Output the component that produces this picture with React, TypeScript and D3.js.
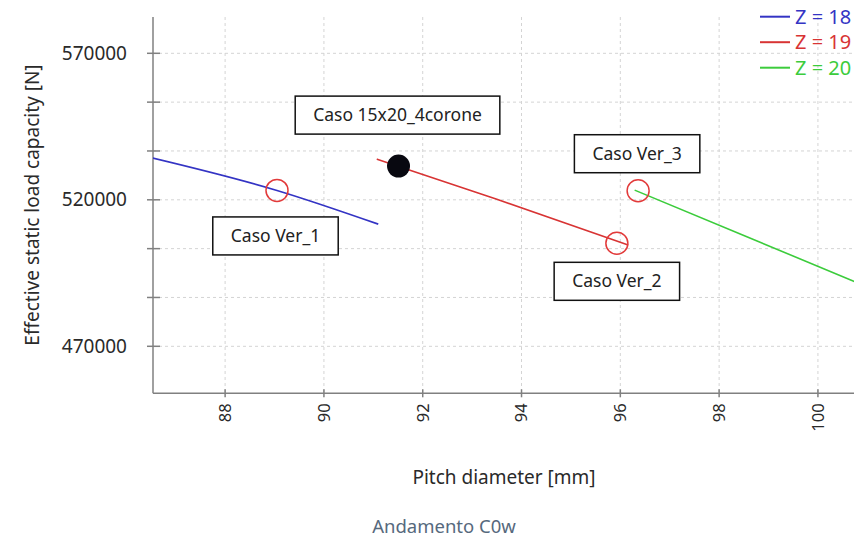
import { useEffect, useRef } from "react";
import * as d3 from "d3";

// series: Z = 18, 19, 20 (pitch diameter [mm] vs effective static load capacity [N])
const seriesNames = ["Z = 18", "Z = 19", "Z = 20"];
const seriesColors = ["#3434c4", "#d83434", "#3ccc3c"];
const z18X = [86.3, 89.05, 91.1];
const z18Y = [535200, 523200, 511700];
const z19X = [91.07, 93.5, 96.16];
const z19Y = [533900, 520200, 504600];
const z20X = [96.29, 98.5, 100.9];
const z20Y = [523300, 507800, 491000];

// marked cases
const caseNames = ["Caso Ver_1", "Caso Ver_2", "Caso Ver_3", "Caso 15x20_4corone"];
const caseX = [89.05, 95.93, 96.36, 91.51];
const caseY = [523200, 505150, 523100, 531500];

const xTicks = [88, 90, 92, 94, 96, 98, 100];
const yTicks = [470000, 486667, 503333, 520000, 536667, 553333, 570000];
const yLabelled = [470000, 520000, 570000];

const W = 854;
const H = 537;
const FONT = "'Noto Sans', 'Open Sans', sans-serif";

function App() {
  const ref = useRef(null);

  useEffect(() => {
    const svg = d3.select(ref.current);
    svg.selectAll("*").remove();

    const x = d3.scaleLinear().domain([86.54, 100.71]).range([153, 853]);
    const y = d3.scaleLinear().domain([453960, 582390]).range([393.3, 17]);
    const [x0] = x.range();
    const [y0, y1] = y.range();

    svg.append("rect").attr("width", W).attr("height", H).attr("fill", "#fff");

    // grid
    const grid = svg.append("g").attr("stroke", "#d4d4d4").attr("stroke-dasharray", "3,3");
    grid.selectAll(".gx").data(xTicks).join("line")
      .attr("x1", d => x(d)).attr("x2", d => x(d)).attr("y1", y1).attr("y2", y0);
    grid.selectAll(".gy").data(yTicks).join("line")
      .attr("x1", x0).attr("x2", W).attr("y1", d => y(d)).attr("y2", d => y(d));

    // axes
    const ax = svg.append("g").attr("stroke", "#808080").attr("stroke-width", 1.5);
    ax.append("line").attr("x1", x0).attr("x2", x0).attr("y1", y1).attr("y2", y0);
    ax.append("line").attr("x1", x0).attr("x2", W).attr("y1", y0).attr("y2", y0);
    ax.selectAll(".ty").data(yTicks).join("line")
      .attr("x1", x0 - 6).attr("x2", x0 + 7).attr("y1", d => y(d)).attr("y2", d => y(d));
    ax.selectAll(".tx").data(xTicks).join("line")
      .attr("x1", d => x(d)).attr("x2", d => x(d)).attr("y1", y0 - 4).attr("y2", y0 + 4);

    svg.append("g").selectAll("text").data(yLabelled).join("text")
      .attr("x", 127).attr("y", d => y(d)).attr("dy", "0.35em")
      .attr("text-anchor", "end").attr("font-family", FONT).attr("font-size", 19)
      .attr("fill", "#2a2a2a").text(d => d);

    svg.append("g").selectAll("text").data(xTicks).join("text")
      .attr("transform", d => `translate(${x(d)},${y0 + 10}) rotate(-90)`)
      .attr("dy", "0.35em").attr("text-anchor", "end")
      .attr("font-family", FONT).attr("font-size", 16.5).attr("fill", "#2a2a2a").text(d => d);

    svg.append("text").attr("x", 504).attr("y", 477).attr("dy", "0.35em")
      .attr("text-anchor", "middle").attr("font-family", FONT).attr("font-size", 19)
      .attr("fill", "#2a2a2a").text("Pitch diameter [mm]");

    svg.append("text").attr("transform", "translate(32,205) rotate(-90)").attr("dy", "0.35em")
      .attr("text-anchor", "middle").attr("font-family", FONT).attr("font-size", 19)
      .attr("fill", "#2a2a2a").text("Effective static load capacity [N]");

    svg.append("text").attr("x", 444).attr("y", 527).attr("dy", "0.35em")
      .attr("text-anchor", "middle").attr("font-family", FONT).attr("font-size", 18.5)
      .attr("fill", "#56697d").text("Andamento C0w");

    // lines
    svg.append("clipPath").attr("id", "plot").append("rect")
      .attr("x", x0).attr("y", y1).attr("width", W - x0).attr("height", y0 - y1);
    const series = [
      d3.zip(z18X, z18Y),
      d3.zip(z19X, z19Y),
      d3.zip(z20X, z20Y),
    ];
    const line = d3.line().x(d => x(d[0])).y(d => y(d[1])).curve(d3.curveMonotoneX);
    svg.append("g").attr("clip-path", "url(#plot)").selectAll("path").data(series).join("path")
      .attr("d", d => line(d)).attr("fill", "none")
      .attr("stroke", (d, i) => seriesColors[i]).attr("stroke-width", 1.6);

    // case markers
    const cases = caseNames.map((name, i) => ({ name, px: x(caseX[i]), py: y(caseY[i]) }));
    svg.append("g").selectAll("circle").data(cases.slice(0, 3)).join("circle")
      .attr("cx", d => d.px).attr("cy", d => d.py).attr("r", 11)
      .attr("fill", "none").attr("stroke", "#e23a3a").attr("stroke-width", 1.5);
    svg.append("circle").attr("cx", cases[3].px).attr("cy", cases[3].py).attr("r", 11.5)
      .attr("fill", "#080810");

    // annotation boxes, offset from their marker
    const boxOffset = [[-1.5, 45.5], [0, 38], [-1, -37], [-1, -51]];
    const ann = svg.append("g").selectAll("g").data(cases).join("g")
      .attr("transform", (d, i) => `translate(${d.px + boxOffset[i][0]},${d.py + boxOffset[i][1]})`);
    const rects = ann.append("rect").attr("fill", "#fff").attr("stroke", "#111").attr("stroke-width", 1.5);
    ann.append("text").attr("text-anchor", "middle").attr("dy", "0.35em")
      .attr("font-family", FONT).attr("font-size", 17.5).attr("fill", "#222").text(d => d.name)
      .each(function (d) {
        d.w = this.getComputedTextLength() + 36;
      });
    rects.attr("x", d => -d.w / 2).attr("y", -19).attr("width", d => d.w).attr("height", 38);

    // legend
    const leg = svg.append("g").selectAll("g").data(seriesNames).join("g")
      .attr("transform", (d, i) => `translate(760,${16.7 + i * 25.5})`);
    leg.append("line").attr("x1", 0).attr("x2", 30)
      .attr("stroke", (d, i) => seriesColors[i]).attr("stroke-width", 2);
    leg.append("text").attr("x", 35).attr("dy", "0.35em").attr("font-family", FONT)
      .attr("font-size", 20).attr("fill", (d, i) => seriesColors[i]).text(d => d);
  }, []);

  return <svg ref={ref} width={W} height={H} style={{ position: "absolute", left: 0, top: 0 }} />;
}

export default App;
